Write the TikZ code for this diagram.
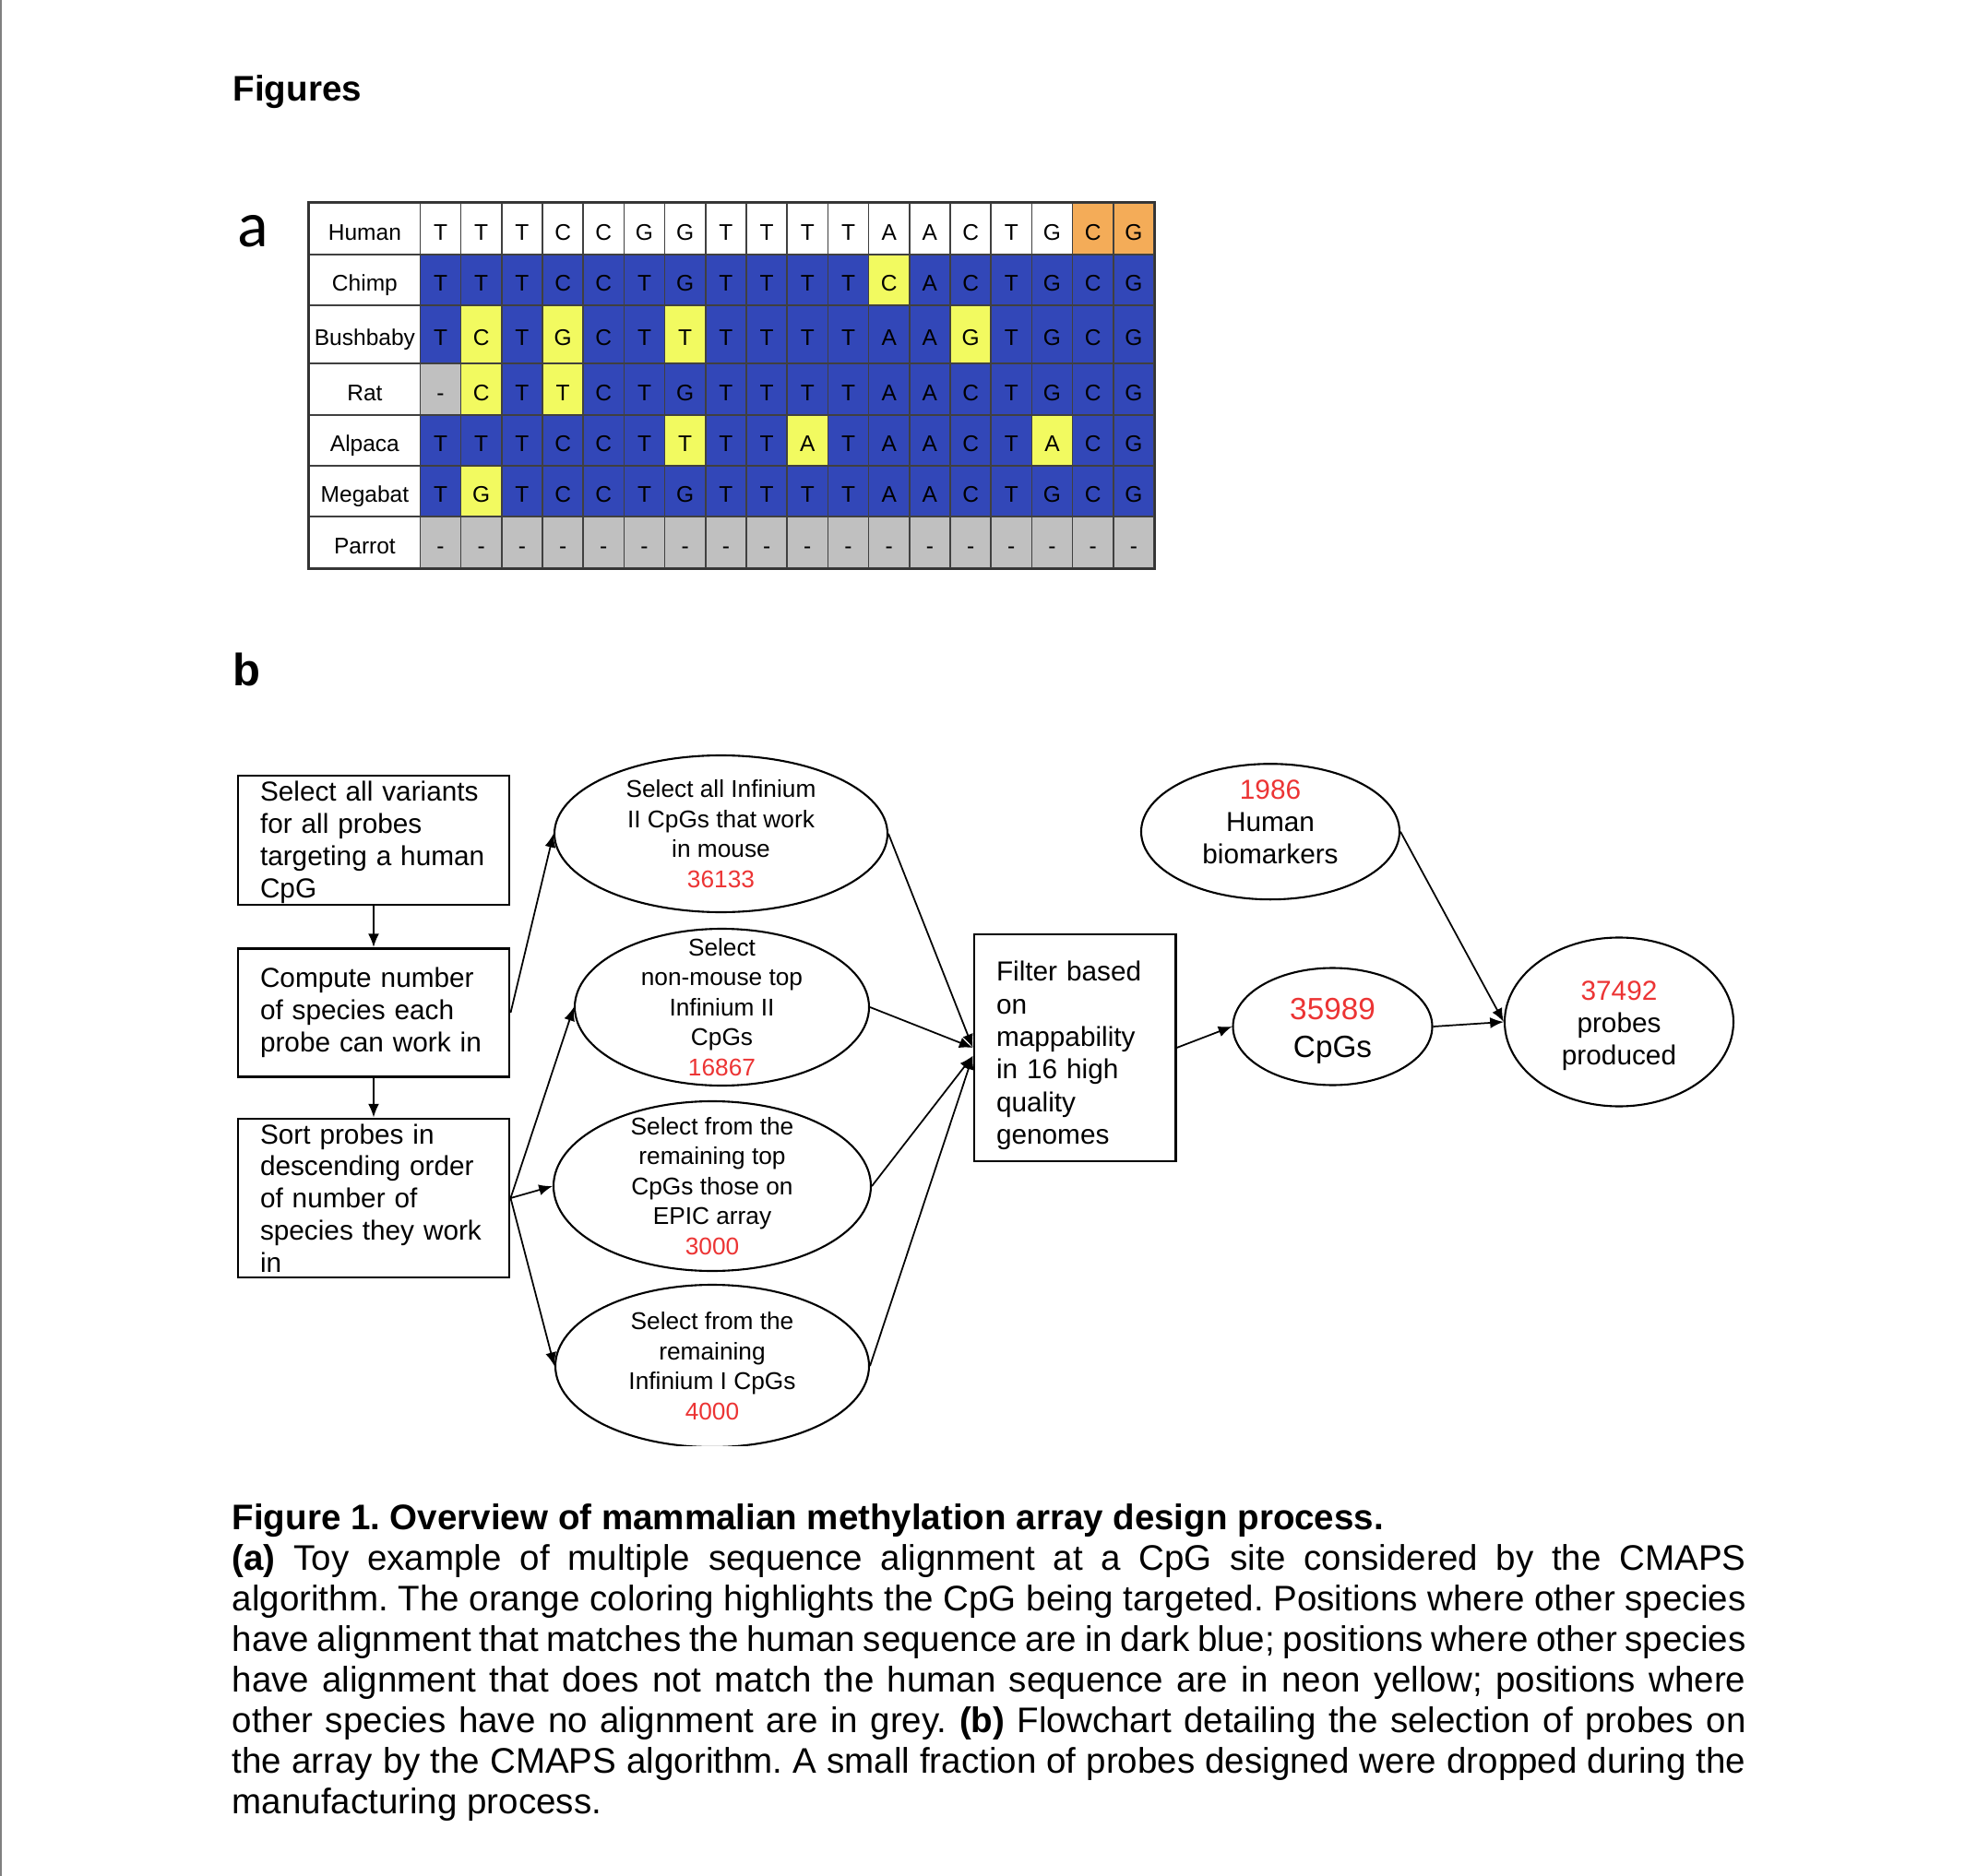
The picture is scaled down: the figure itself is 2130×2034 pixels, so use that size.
\documentclass[tikz,border=0pt]{standalone}
\usepackage{fontspec}
\setmainfont{Liberation Sans}
\newfontfamily\calfont{Carlito}
\usetikzlibrary{shapes.geometric, arrows.meta, calc}

\definecolor{mw}{RGB}{255,255,255}
\definecolor{mb}{RGB}{50,71,184}
\definecolor{my}{RGB}{242,250,96}
\definecolor{mg}{RGB}{192,192,192}
\definecolor{mo}{RGB}{244,172,88}
\definecolor{numred}{RGB}{236,52,52}

\newcommand{\upx}{0.2855pt}
\newcommand{\rednum}[1]{\textcolor{numred}{#1}}

\tikzset{
  cell/.style={draw=black!75, line width=0.45pt, inner sep=0pt,
    text height=7pt, text depth=0pt, font=\fontsize{7}{8}\selectfont},
  stepbox/.style={draw, line width=0.85pt, rectangle, inner ysep=0pt,
    inner xsep=24*\upx, align=left, font=\fontsize{8.5}{9.95}\selectfont},
  oval/.style={draw, line width=0.6pt, ellipse, inner sep=0pt},
  ovaltext/.style={align=center, inner sep=0pt, font=\fontsize{7.5}{9.3}\selectfont},
  bigovaltext/.style={align=center, inner sep=0pt, font=\fontsize{8.5}{10}\selectfont},
  flow/.style={line width=0.5pt, -{Latex[length=4.2pt,width=3.4pt]}},
}

\begin{document}
\frenchspacing
\begin{tikzpicture}[x=\upx, y=-\upx]
  \useasboundingbox (0,0) rectangle (2130,2034);
  \fill[white] (0,0) rectangle (2130,2034);
  \draw[black!50, line width=0.6pt] (1,0) -- (1,2034);

  \node[anchor=base west, inner sep=0pt, font=\fontsize{11}{13}\selectfont\bfseries]
    (figs) at (252,109.5) {Figures};
  \node[anchor=base west, inner sep=0pt, font=\calfont\fontsize{20}{24}\selectfont]
    (parta) at (256.5,267.5) {a};
  \node[anchor=base west, inner sep=0pt, font=\fontsize{14}{16}\selectfont\bfseries]
    (partb) at (252,743.3) {b};

  % alignment table
  \foreach \species/\ytop/\ybot/\cells [count=\r] in {
    Human/220/276/{T/mw,T/mw,T/mw,C/mw,C/mw,G/mw,G/mw,T/mw,T/mw,T/mw,T/mw,A/mw,A/mw,C/mw,T/mw,G/mw,C/mo,G/mo},
    Chimp/276/331/{T/mb,T/mb,T/mb,C/mb,C/mb,T/mb,G/mb,T/mb,T/mb,T/mb,T/mb,C/my,A/mb,C/mb,T/mb,G/mb,C/mb,G/mb},
    Bushbaby/331/394/{T/mb,C/my,T/mb,G/my,C/mb,T/mb,T/my,T/mb,T/mb,T/mb,T/mb,A/mb,A/mb,G/my,T/mb,G/mb,C/mb,G/mb},
    Rat/394/450/{-/mg,C/my,T/mb,T/my,C/mb,T/mb,G/mb,T/mb,T/mb,T/mb,T/mb,A/mb,A/mb,C/mb,T/mb,G/mb,C/mb,G/mb},
    Alpaca/450/505/{T/mb,T/mb,T/mb,C/mb,C/mb,T/mb,T/my,T/mb,T/mb,A/my,T/mb,A/mb,A/mb,C/mb,T/mb,A/my,C/mb,G/mb},
    Megabat/505/560/{T/mb,G/my,T/mb,C/mb,C/mb,T/mb,G/mb,T/mb,T/mb,T/mb,T/mb,A/mb,A/mb,C/mb,T/mb,G/mb,C/mb,G/mb},
    Parrot/560/616/{-/mg,-/mg,-/mg,-/mg,-/mg,-/mg,-/mg,-/mg,-/mg,-/mg,-/mg,-/mg,-/mg,-/mg,-/mg,-/mg,-/mg,-/mg}}
  {
    \node[cell, fill=white, minimum width=120*\upx, minimum height={(\ybot-\ytop)*\upx}]
      (lab\r) at (395.4,{(\ytop+\ybot)/2}) {\species};
    \foreach \l/\s [count=\i] in \cells
      \node[cell, fill=\s, minimum width=44.2*\upx, minimum height={(\ybot-\ytop)*\upx}]
        (c\r-\i) at ({477.5+(\i-1)*44.2},{(\ytop+\ybot)/2}) {\l};
  }
  \draw[black!80, line width=0.7pt] (lab1.north west) rectangle (c7-18.south east);

  % flowchart
  \node[stepbox, text width=246*\upx, minimum width=294*\upx, minimum height=140*\upx]
    (sel) at (405,911) {\rule{0pt}{7.5pt}Select all variants\\for all probes\\targeting a human\\CpG};
  \node[stepbox, text width=246*\upx, minimum width=294*\upx, minimum height=139*\upx]
    (comp) at (405,1098) {Compute number\\of species each\\probe can work in};
  \node[stepbox, text width=246*\upx, minimum width=294*\upx, minimum height=172*\upx]
    (sort) at (405,1299) {Sort probes in\\descending order\\of number of\\species they work\\in};
  \node[stepbox, text width=170*\upx, minimum width=218*\upx, minimum height=246*\upx,
    font=\fontsize{8.5}{10.1}\selectfont]
    (filt) at (1165,1136) {\rule{0pt}{11pt}Filter based\\on\\mappability\\in 16 high\\quality\\genomes};

  \node[oval, minimum width=361*\upx, minimum height=170*\upx] (mouse) at (781.5,904) {};
  \node[ovaltext] (mousetxt) at (mouse) {Select all Infinium\\II CpGs that work\\in mouse\\\rednum{36133}};
  \node[oval, minimum width=319*\upx, minimum height=170*\upx] (nonmouse) at (782.5,1092) {};
  \node[ovaltext] (nonmousetxt) at (nonmouse) {Select\\non-mouse top\\Infinium II\\CpGs\\\rednum{16867}};
  \node[oval, minimum width=344*\upx, minimum height=184*\upx] (epic) at (772,1286) {};
  \node[ovaltext] (epictxt) at (epic) {Select from the\\remaining top\\CpGs those on\\EPIC array\\\rednum{3000}};
  \begin{scope}
    \clip (0,0) rectangle (2130,1567);
    \node[oval, minimum width=340*\upx, minimum height=176*\upx] (infone) at (772,1481) {};
  \end{scope}
  \node[ovaltext] (infonetxt) at (infone) {Select from the\\remaining\\Infinium I CpGs\\\rednum{4000}};

  \node[oval, minimum width=216*\upx, minimum height=127*\upx] (cpgs) at (1444.5,1113) {};
  \node[align=center, inner sep=0pt, font=\fontsize{9.5}{11.8}\selectfont]
    (cpgstxt) at ([yshift=-1.4pt]cpgs.center) {\rednum{35989}\\CpGs};
  \node[oval, minimum width=280*\upx, minimum height=147*\upx] (bio) at (1377,901.7) {};
  \node[bigovaltext] (biotxt) at ([yshift=3pt]bio.center) {\rednum{1986}\\Human\\biomarkers};
  \node[oval, minimum width=248*\upx, minimum height=183*\upx] (prod) at (1755,1108) {};
  \node[bigovaltext] (prodtxt) at ([yshift=-1.2pt]prod.center) {\rednum{37492}\\probes\\produced};

  \draw[flow] (sel) -- (comp);
  \draw[flow] (comp) -- (sort);
  \draw[flow] (comp.east) -- (mouse.west);
  \draw[flow] (sort.east) -- (nonmouse.west);
  \draw[flow] (sort.east) -- (epic.west);
  \draw[flow] (sort.east) -- (infone.west);
  \draw[flow] (mouse.east) -- (filt.west);
  \draw[flow] (nonmouse.east) -- (filt.west);
  \draw[flow] (epic.east) -- ([yshift=-2.5pt]filt.west);
  \draw[flow] (infone.east) -- ([yshift=-2.5pt]filt.west);
  \draw[flow] (filt.east) -- (cpgs.west);
  \draw[flow] (cpgs.east) -- (prod.west);
  \draw[flow] (bio.east) -- (prod.west);

  % caption
  \node[anchor=base west, inner sep=0pt, font=\fontsize{11}{12.6}\selectfont]
    (cap) at (251,1658) {\parbox[t]{468.5pt}{%
      \textbf{Figure 1. Overview of mammalian methylation array design process.}\\
      \textbf{(a)} Toy example of multiple sequence alignment at a CpG site considered by the CMAPS\linebreak
      algorithm. The orange coloring highlights the CpG being targeted. Positions where other species\linebreak
      have alignment that matches the human sequence are in dark blue; positions where other species\linebreak
      have alignment that does not match the human sequence are in neon yellow; positions where\linebreak
      other species have no alignment are in grey. \textbf{(b)} Flowchart detailing the selection of probes on\linebreak
      the array by the CMAPS algorithm. A small fraction of probes designed were dropped during the\linebreak
      manufacturing process.}};
\end{tikzpicture}
\end{document}
